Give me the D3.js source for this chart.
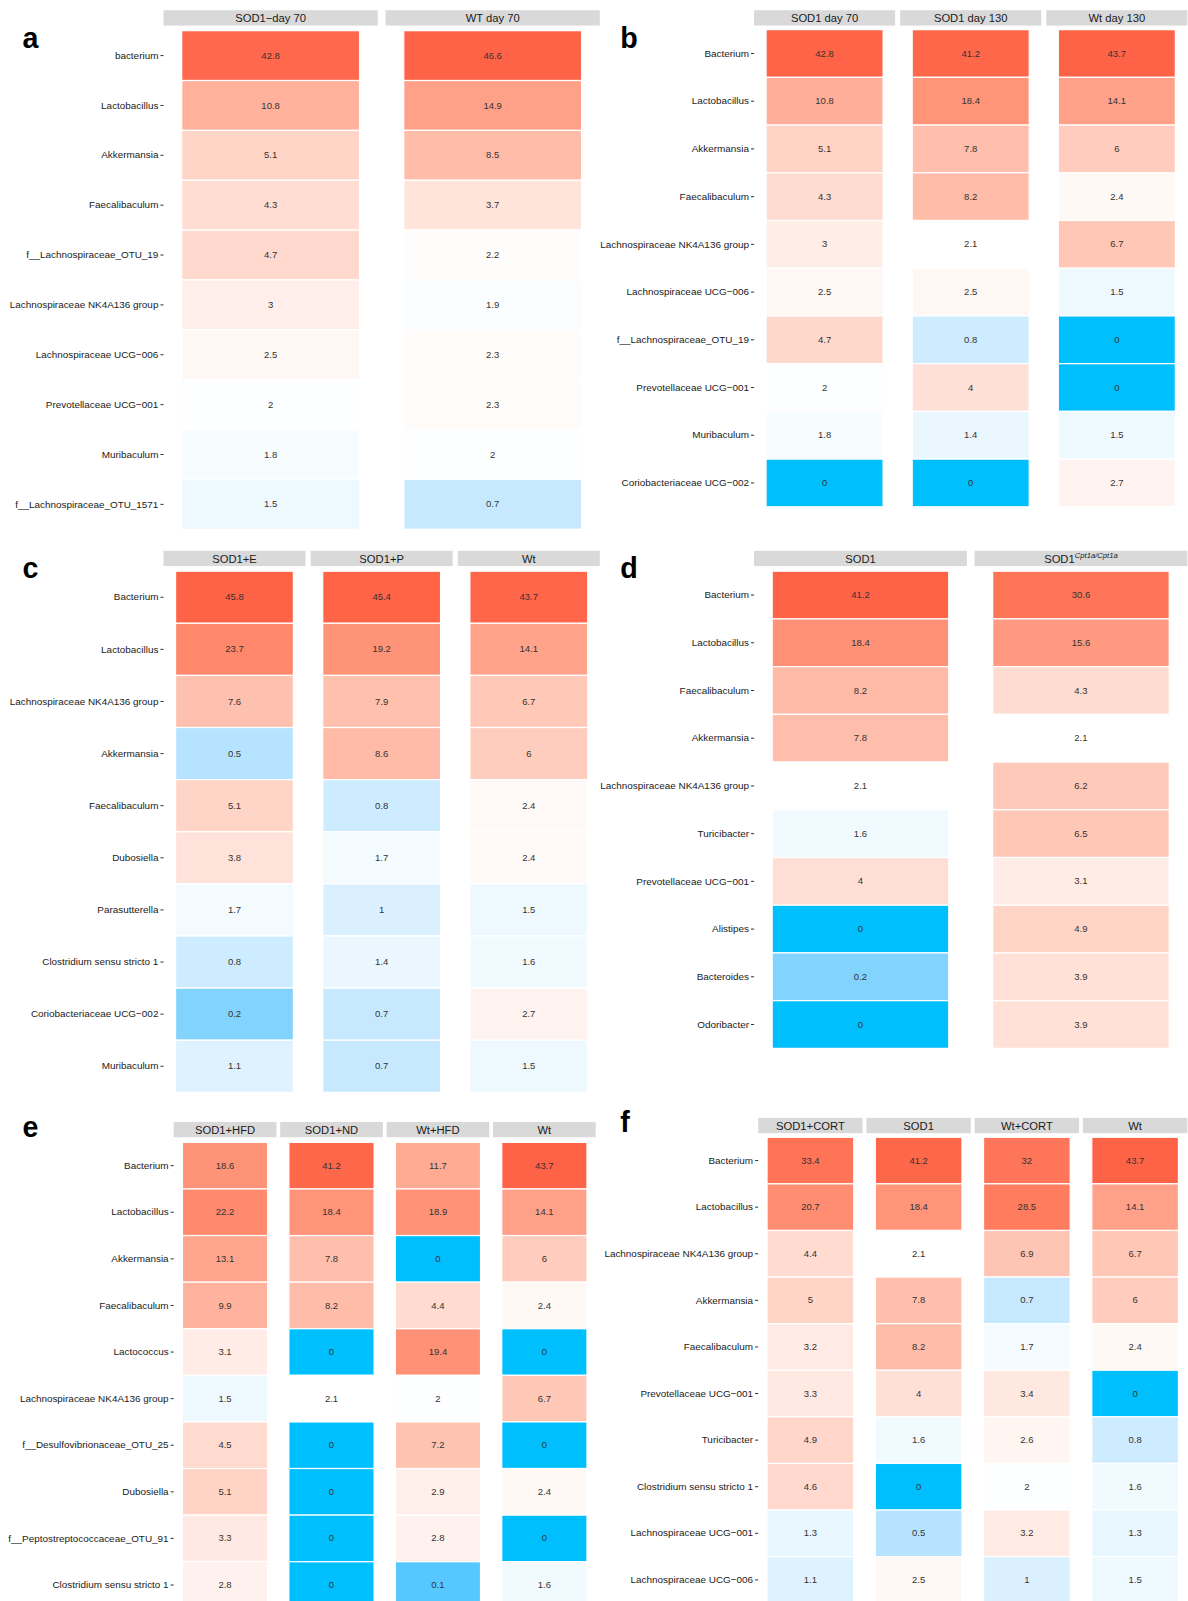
<!DOCTYPE html>
<html>
<head>
<meta charset="utf-8">
<script src="https://cdn.jsdelivr.net/npm/d3@7"></script>
<style>
  body { margin: 0; background: #fff; }
  text { font-family: "Liberation Sans", Arial, sans-serif; }
</style>
</head>
<body>
<script>
// ---- data ----
// panel a
var aTaxa = ["bacterium", "Lactobacillus", "Akkermansia", "Faecalibaculum", "f__Lachnospiraceae_OTU_19",
  "Lachnospiraceae NK4A136 group", "Lachnospiraceae UCG\u2212006", "Prevotellaceae UCG\u2212001", "Muribaculum",
  "f__Lachnospiraceae_OTU_1571"];
var aGroups = ["SOD1\u2212day 70", "WT day 70"];
var aSod1Day70 = [42.8, 10.8, 5.1, 4.3, 4.7, 3, 2.5, 2, 1.8, 1.5];
var aWtDay70 = [46.6, 14.9, 8.5, 3.7, 2.2, 1.9, 2.3, 2.3, 2, 0.7];

// panel b
var bTaxa = ["Bacterium", "Lactobacillus", "Akkermansia", "Faecalibaculum", "Lachnospiraceae NK4A136 group",
  "Lachnospiraceae UCG\u2212006", "f__Lachnospiraceae_OTU_19", "Prevotellaceae UCG\u2212001", "Muribaculum",
  "Coriobacteriaceae UCG\u2212002"];
var bGroups = ["SOD1 day 70", "SOD1 day 130", "Wt day 130"];
var bSod1Day70 = [42.8, 10.8, 5.1, 4.3, 3, 2.5, 4.7, 2, 1.8, 0];
var bSod1Day130 = [41.2, 18.4, 7.8, 8.2, 2.1, 2.5, 0.8, 4, 1.4, 0];
var bWtDay130 = [43.7, 14.1, 6, 2.4, 6.7, 1.5, 0, 0, 1.5, 2.7];

// panel c
var cTaxa = ["Bacterium", "Lactobacillus", "Lachnospiraceae NK4A136 group", "Akkermansia", "Faecalibaculum",
  "Dubosiella", "Parasutterella", "Clostridium sensu stricto 1", "Coriobacteriaceae UCG\u2212002", "Muribaculum"];
var cGroups = ["SOD1+E", "SOD1+P", "Wt"];
var cSod1E = [45.8, 23.7, 7.6, 0.5, 5.1, 3.8, 1.7, 0.8, 0.2, 1.1];
var cSod1P = [45.4, 19.2, 7.9, 8.6, 0.8, 1.7, 1, 1.4, 0.7, 0.7];
var cWt = [43.7, 14.1, 6.7, 6, 2.4, 2.4, 1.5, 1.6, 2.7, 1.5];

// panel d
var dTaxa = ["Bacterium", "Lactobacillus", "Faecalibaculum", "Akkermansia", "Lachnospiraceae NK4A136 group",
  "Turicibacter", "Prevotellaceae UCG\u2212001", "Alistipes", "Bacteroides", "Odoribacter"];
var dGroups = ["SOD1", "SOD1 Cpt1a/Cpt1a"];
var dSod1 = [41.2, 18.4, 8.2, 7.8, 2.1, 1.6, 4, 0, 0.2, 0];
var dSod1Cpt1a = [30.6, 15.6, 4.3, 2.1, 6.2, 6.5, 3.1, 4.9, 3.9, 3.9];

// panel e
var eTaxa = ["Bacterium ", "Lactobacillus", "Akkermansia", "Faecalibaculum", "Lactococcus",
  "Lachnospiraceae NK4A136 group", "f__Desulfovibrionaceae_OTU_25", "Dubosiella",
  "f__Peptostreptococcaceae_OTU_91", "Clostridium sensu stricto 1"];
var eGroups = ["SOD1+HFD", "SOD1+ND", "Wt+HFD", "Wt"];
var eSod1Hfd = [18.6, 22.2, 13.1, 9.9, 3.1, 1.5, 4.5, 5.1, 3.3, 2.8];
var eSod1Nd = [41.2, 18.4, 7.8, 8.2, 0, 2.1, 0, 0, 0, 0];
var eWtHfd = [11.7, 18.9, 0, 4.4, 19.4, 2, 7.2, 2.9, 2.8, 0.1];
var eWt = [43.7, 14.1, 6, 2.4, 0, 6.7, 0, 2.4, 0, 1.6];

// panel f
var fTaxa = ["Bacterium", "Lactobacillus", "Lachnospiraceae NK4A136 group", "Akkermansia", "Faecalibaculum",
  "Prevotellaceae UCG\u2212001", "Turicibacter", "Clostridium sensu stricto 1", "Lachnospiraceae UCG\u2212001",
  "Lachnospiraceae UCG\u2212006"];
var fGroups = ["SOD1+CORT", "SOD1", "Wt+CORT", "Wt"];
var fSod1Cort = [33.4, 20.7, 4.4, 5, 3.2, 3.3, 4.9, 4.6, 1.3, 1.1];
var fSod1 = [41.2, 18.4, 2.1, 7.8, 8.2, 4, 1.6, 0, 0.5, 2.5];
var fWtCort = [32, 28.5, 6.9, 0.7, 1.7, 3.4, 2.6, 2, 3.2, 1];
var fWt = [43.7, 14.1, 6.7, 6, 2.4, 0, 0.8, 1.6, 1.3, 1.5];

// ---- drawing ----
var width = 1188, height = 1601;
var svg = d3.select("body").append("svg")
  .attr("width", width)
  .attr("height", height);

// layout below was measured on a slightly smaller grid, so stretch it
var root = svg.append("g").attr("transform", "scale(1.0218)");

var mid = 2.1;       // value drawn as white
var low = 0.05;      // anything at or below this is full blue
var tileFrac = 0.83; // tile width relative to strip

function tr(v) { return Math.log(v + 0.04); }

function drawPanel(p) {
  var g = root.append("g");
  var all = d3.merge(p.cols);
  var color = d3.scaleLinear()
    .domain([tr(low), tr(mid), tr(d3.max(all))])
    .range(["#00bfff", "#ffffff", "#ff6347"])
    .interpolate(d3.interpolateLab)
    .clamp(true);

  var x = d3.scaleBand().domain(p.groups).range([p.x0, p.x1]).paddingInner(0.035);
  var y = d3.scaleBand().domain(p.taxa).range([p.y0, p.y1]);
  var tw = x.bandwidth() * tileFrac;

  // strips
  var strips = g.selectAll(".strip").data(p.groups).enter().append("g");
  strips.append("rect")
    .attr("x", function(d) { return x(d); })
    .attr("y", p.sy)
    .attr("width", x.bandwidth())
    .attr("height", 15)
    .attr("fill", "#d9d9d9");
  strips.append("text")
    .attr("x", function(d) { return x(d) + x.bandwidth() / 2; })
    .attr("y", p.sy + 11.5)
    .attr("text-anchor", "middle")
    .attr("font-size", 11)
    .attr("fill", "#1a1a1a")
    .each(function(d) {
      var t = d3.select(this);
      if (d.indexOf(" Cpt1a") > 0) {
        t.append("tspan").text(d.split(" ")[0]);
        t.append("tspan").attr("dy", -4).attr("font-size", 7.5).attr("font-style", "italic").text(d.split(" ")[1]);
      } else {
        t.text(d);
      }
    });

  // tiles
  p.cols.forEach(function(vals, j) {
    var grp = p.groups[j];
    var cells = g.selectAll(".c" + j).data(vals).enter();
    cells.append("rect")
      .attr("x", x(grp) + (x.bandwidth() - tw) / 2)
      .attr("y", function(d, i) { return y(p.taxa[i]); })
      .attr("width", tw)
      .attr("height", y.bandwidth())
      .attr("fill", function(d) { return color(tr(d)); })
      .attr("stroke", "#fff")
      .attr("stroke-width", 1.2);
    cells.append("text")
      .attr("x", x(grp) + x.bandwidth() / 2)
      .attr("y", function(d, i) { return y(p.taxa[i]) + y.bandwidth() / 2 + 3; })
      .attr("text-anchor", "middle")
      .attr("font-size", 9.3)
      .attr("fill", "#333")
      .text(function(d) { return d; });
  });

  // y axis: labels and ticks
  var yAxis = d3.axisLeft(y).tickSize(3).tickPadding(2);
  var ax = g.append("g").attr("transform", "translate(" + p.x0 + ",0)").call(yAxis);
  ax.select(".domain").remove();
  ax.selectAll("line").attr("stroke", "#333");
  ax.selectAll("text")
    .attr("font-size", 9.7)
    .attr("fill", "#1a1a1a")
    .attr("font-family", "Liberation Sans, Arial, sans-serif");

  // panel letter
  g.append("text")
    .attr("x", p.lx)
    .attr("y", p.ly)
    .attr("font-size", 28)
    .attr("font-weight", "bold")
    .attr("fill", "#000")
    .text(p.letter);
}

drawPanel({ letter: "a", taxa: aTaxa, groups: aGroups, cols: [aSod1Day70, aWtDay70],
  x0: 160, x1: 587, sy: 10, y0: 30, y1: 518, lx: 22, ly: 47 });
drawPanel({ letter: "b", taxa: bTaxa, groups: bGroups, cols: [bSod1Day70, bSod1Day130, bWtDay130],
  x0: 738, x1: 1162, sy: 10, y0: 29, y1: 496, lx: 607, ly: 47 });
drawPanel({ letter: "c", taxa: cTaxa, groups: cGroups, cols: [cSod1E, cSod1P, cWt],
  x0: 160, x1: 587, sy: 539, y0: 559, y1: 1069, lx: 22, ly: 566 });
drawPanel({ letter: "d", taxa: dTaxa, groups: dGroups, cols: [dSod1, dSod1Cpt1a],
  x0: 738, x1: 1162, sy: 539, y0: 559, y1: 1026, lx: 607, ly: 566 });
drawPanel({ letter: "e", taxa: eTaxa, groups: eGroups, cols: [eSod1Hfd, eSod1Nd, eWtHfd, eWt],
  x0: 170, x1: 583, sy: 1098, y0: 1118, y1: 1574, lx: 22, ly: 1113 });
drawPanel({ letter: "f", taxa: fTaxa, groups: fGroups, cols: [fSod1Cort, fSod1, fWtCort, fWt],
  x0: 742, x1: 1162, sy: 1094, y0: 1113, y1: 1569, lx: 607, ly: 1108 });
</script>
</body>
</html>
